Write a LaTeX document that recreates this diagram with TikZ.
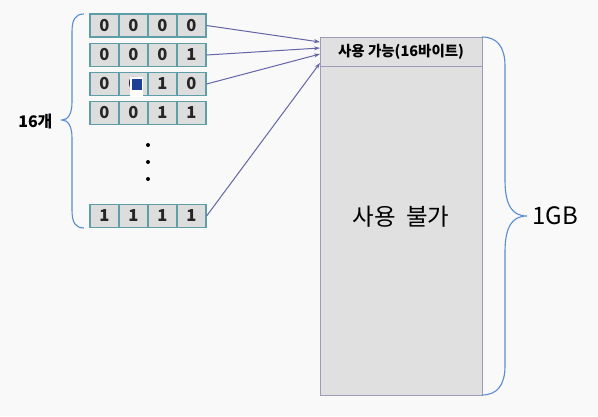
\documentclass[tikz,border=0pt]{standalone}
\usepackage{fontspec}
\setmainfont{Noto Sans CJK KR}
\usetikzlibrary{arrows.meta}
\definecolor{bg}{HTML}{F9F9F9}
\definecolor{cellfill}{HTML}{DDDDDD}
\definecolor{celledge}{HTML}{5E9EA6}
\definecolor{arrowc}{HTML}{6464A8}
\definecolor{boxedge}{HTML}{9C9CB8}
\definecolor{boxfill}{HTML}{E0E0E0}
\definecolor{bracec}{HTML}{5A8CD2}
\definecolor{cursor}{HTML}{1E3F96}
\tikzset{
  cell/.style={draw=celledge, line width=1.2pt, fill=cellfill, minimum width=29pt, minimum height=23pt, inner sep=0pt, font=\fontsize{16.5}{16.5}\selectfont\bfseries, text=black!85},
  conn/.style={draw=arrowc, line width=1pt, -{Stealth[length=6pt,width=4pt]}},
  bracestyle/.style={draw=bracec, line width=1.1pt},
  memedge/.style={draw=boxedge, line width=1pt, fill=boxfill, inner sep=0pt}
}
\begin{document}
\begin{tikzpicture}[x=1pt,y=-1pt]
\fill[bg] (0,0) rectangle (598,416);
\useasboundingbox (0,0) rectangle (598,416);
% memory box
\node[memedge, minimum width=162pt, minimum height=358pt] (mem) at (401,216) {};
\node[memedge, minimum width=162pt, minimum height=29.7pt, font=\fontsize{14.5}{14.5}\selectfont\bfseries] (head) at (401,51.85) {사용 가능(16바이트)};
\node[font=\fontsize{23.5}{23.5}\selectfont] (nouse) at (401,217) {사용\ \ 불가};
% cells
\foreach \r/\y/\a/\b/\c/\d in {1/25.5/0/0/0/0, 2/55/0/0/0/1, 3/84/0/0/1/0, 4/113/0/0/1/1, 5/216/1/1/1/1}{
  \node[cell] (r\r c1) at (104.5,\y) {\a};
  \node[cell] (r\r c2) at (133.5,\y) {\b};
  \node[cell] (r\r c3) at (162.5,\y) {\c};
  \node[cell] (r\r c4) at (191.5,\y) {\d};
}
% cursor artifact
\fill[white] (130,77) rectangle (143,97);
\fill[cursor] (131.5,79) rectangle (141.5,89.5);
% dots
\foreach \y/\n in {145/a,162/b,179/c}{
  \node[circle, fill=black, inner sep=0pt, minimum size=4pt] (dot\n) at (148,\y) {};
}
% arrow targets
\coordinate (t1) at (320,42);
\coordinate (t2) at (320,48);
\coordinate (t3) at (320,54);
\coordinate (t5) at (320,63);
\draw[conn] (r1c4.east) -- (t1);
\draw[conn] (r2c4.east) -- (t2);
\draw[conn] (r3c4.east) -- (t3);
\draw[conn] (r5c4.east) -- (t5);
% left brace
\draw[bracestyle] (84,14) .. controls (75,14) and (72,20) .. (72,32) -- (72,102) .. controls (72,114) and (68,120) .. (62,120)
  .. controls (68,120) and (72,126) .. (72,138) -- (72,210) .. controls (72,222) and (75,228) .. (84,228);
\node[font=\fontsize{16}{16}\selectfont\bfseries, anchor=east] (cnt) at (56,121) {16개};
% right brace
\draw[bracestyle] (482,37) .. controls (498,37) and (505,48) .. (505,66) -- (505,180) .. controls (505,205) and (512,216) .. (527,216)
  .. controls (512,216) and (505,227) .. (505,252) -- (505,366) .. controls (505,384) and (498,395) .. (482,395);
\node[font=\fontsize{24}{24}\selectfont, anchor=west] (gb) at (529,216) {1GB};
\end{tikzpicture}
\end{document}
